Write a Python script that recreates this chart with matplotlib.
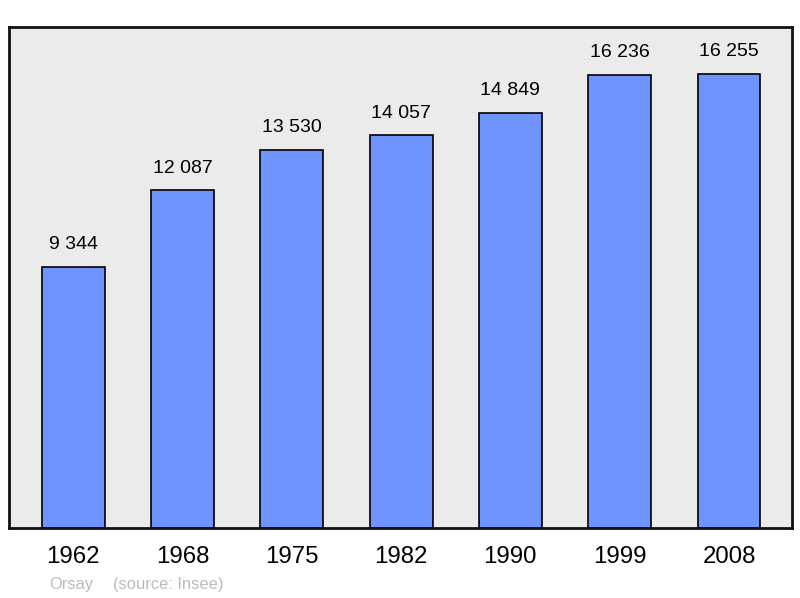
import matplotlib.pyplot as plt

plt.rcParams['font.family'] = ['Liberation Sans', 'DejaVu Sans']

years = ["1962", "1968", "1975", "1982", "1990", "1999", "2008"]
population = [9344, 12087, 13530, 14057, 14849, 16236, 16255]
value_labels = ["9 344", "12 087", "13 530", "14 057", "14 849", "16 236", "16 255"]

fig = plt.figure(figsize=(8, 5.98), dpi=100)
ax = fig.add_axes([0.01125, 0.117, 0.979, 0.8378])
ax.set_facecolor("#ebebeb")

x = range(len(years))
ax.bar(x, population, width=0.576, color="#7094ff", edgecolor="black", linewidth=1.2, zorder=2)

for i, (v, lab) in enumerate(zip(population, value_labels)):
    ax.annotate(lab, (i, v), xytext=(0, 10), textcoords="offset points",
                ha="center", va="bottom", fontsize=14)

ax.set_xlim(-0.586, 6.578)
ax.set_ylim(0, 17940)
ax.set_yticks([])
ax.set_xticks(list(x))
ax.set_xticklabels(years, fontsize=17.3)
ax.tick_params(axis="x", length=0, pad=13)
for s in ax.spines.values():
    s.set_linewidth(2)
    s.set_color("#111111")

fig.text(49 / 800, 1 - 584 / 598, "Orsay", fontsize=11.9, color="#bbbbbb", va="center")
fig.text(113 / 800, 1 - 584 / 598, "(source: Insee)", fontsize=11.9, color="#bbbbbb", va="center")

fig.savefig("out.png", dpi=100)
